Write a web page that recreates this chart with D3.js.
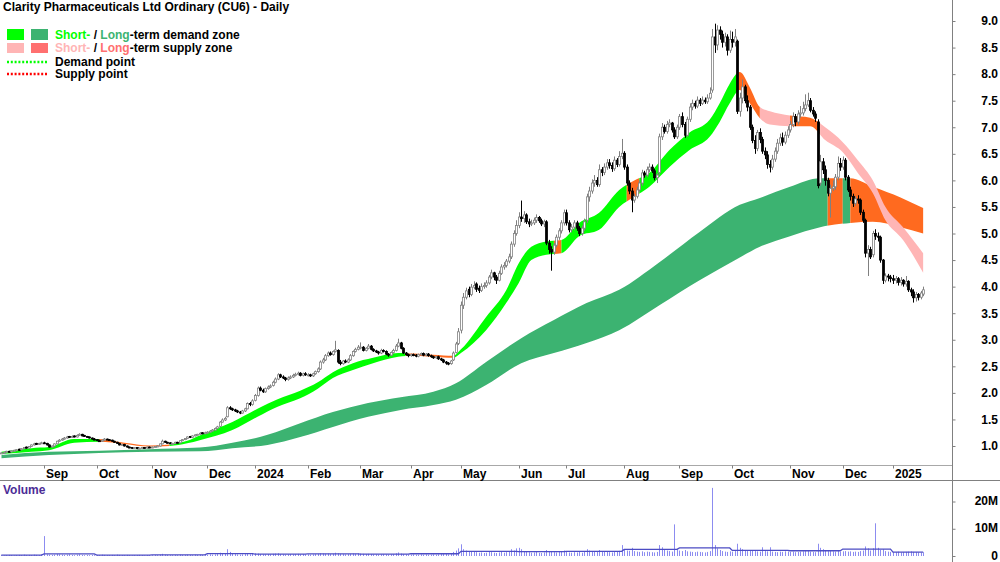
<!DOCTYPE html>
<html>
<head>
<meta charset="utf-8">
<script src="https://cdn.jsdelivr.net/npm/d3@7"></script>
<style>
  body { margin: 0; background: #fff; }
  svg { display: block; font-family: "Liberation Sans Narrow", "Arial Narrow", "Liberation Sans", Arial, sans-serif; }
</style>
</head>
<body>
<div id="chart"></div>
<script>
// ---- daily prices, one entry per trading day (Aug 2023 .. Jan 2025) ----
var opens = [
  0.86,0.87,0.88,0.90,0.89,0.91,0.92,0.94,0.93,0.95,0.98,0.96,0.99,1.02,1.05,1.03,1.05,
  1.06,1.05,1.02,0.98,1.00,1.04,1.09,1.11,1.13,1.15,1.18,1.16,1.19,1.17,1.20,1.22,1.20,1.18,1.17,1.15,1.13,
  1.12,1.10,1.09,1.11,1.13,1.12,1.11,1.09,1.07,1.05,1.02,1.03,1.00,0.98,0.97,0.96,0.97,0.95,0.96,0.97,0.96,0.98,
  0.97,0.98,0.99,1.00,1.04,1.09,1.07,1.06,1.04,1.05,1.07,1.06,1.10,1.12,1.14,1.18,1.16,1.19,1.21,1.22,1.25,1.23,
  1.25,1.26,1.28,1.30,1.33,1.37,1.45,1.49,1.55,1.72,1.70,1.68,1.66,1.64,1.62,1.66,1.70,1.80,1.78,
  1.86,1.95,2.09,2.05,2.02,2.08,2.11,2.14,2.20,2.26,2.34,2.30,2.28,2.25,2.28,2.30,2.33,2.35,2.37,2.33,2.36,
  2.34,2.34,2.32,2.36,2.40,2.45,2.58,2.62,2.70,2.75,2.72,2.78,2.80,2.58,2.55,2.60,2.58,2.62,2.70,2.78,2.82,
  2.86,2.86,2.80,2.84,2.88,2.82,2.79,2.77,2.75,2.80,2.78,2.73,2.71,2.76,2.80,2.88,2.94,2.84,2.75,2.72,
  2.70,2.72,2.71,2.69,2.72,2.74,2.71,2.73,2.70,2.68,2.66,2.68,2.64,2.62,2.58,2.56,2.55,2.62,2.76,2.93,
  3.18,3.65,3.80,3.95,3.85,3.99,4.05,3.97,3.93,4.00,4.02,4.07,4.18,4.26,4.18,4.12,4.25,4.37,4.40,4.48,4.56,4.80,5.00,
  5.15,5.31,5.28,5.35,5.22,5.18,5.20,5.25,5.30,5.24,5.18,5.22,4.82,4.70,4.65,4.78,4.93,5.05,5.20,
  5.39,5.20,5.07,5.12,5.20,5.10,5.00,5.10,5.25,5.69,5.80,5.95,6.00,5.92,6.20,6.15,6.25,6.33,6.28,6.22,6.38,6.30,6.45,
  6.51,6.25,5.95,5.80,5.63,5.70,5.82,5.95,6.14,6.10,6.20,6.25,6.18,6.05,6.15,6.82,7.00,6.92,7.05,7.08,6.95,6.82,
  7.00,7.20,7.05,6.85,7.15,7.38,7.45,7.40,7.51,7.45,7.51,7.48,7.55,7.70,8.70,8.55,8.83,8.75,8.60,8.70,8.45,
  8.65,8.60,8.62,7.30,7.55,7.76,7.50,7.38,7.00,6.75,6.60,6.90,6.77,6.55,6.48,6.30,6.25,6.40,6.55,6.70,6.80,6.72,6.85,
  6.95,7.05,7.20,7.10,7.25,7.27,7.35,7.42,7.50,7.32,7.25,7.10,5.95,6.35,6.20,6.00,5.76,5.85,5.88,6.06,6.32,
  6.25,6.38,6.06,5.82,5.70,5.57,5.65,5.63,5.40,5.25,4.63,4.70,4.60,5.00,4.95,4.93,4.50,4.12,4.20,4.18,
  4.15,4.12,4.15,4.08,4.12,4.05,4.10,3.94,3.90,3.79,3.85,3.80,3.86
];
var highs = [
  0.88,0.89,0.91,0.91,0.92,0.93,0.94,0.95,0.96,0.98,0.99,1.00,1.03,1.06,1.06,1.06,1.08,
  1.08,1.06,1.03,1.01,1.05,1.10,1.13,1.15,1.17,1.19,1.19,1.20,1.20,1.22,1.24,1.23,1.21,1.19,1.18,1.16,1.15,
  1.13,1.12,1.12,1.15,1.14,1.13,1.12,1.10,1.08,1.06,1.04,1.04,1.01,0.99,0.98,0.98,0.98,0.97,0.98,0.98,0.99,0.99,
  0.99,1.00,1.01,1.05,1.12,1.10,1.08,1.07,1.06,1.08,1.08,1.11,1.13,1.15,1.18,1.19,1.20,1.22,1.23,1.26,1.26,1.27,
  1.28,1.30,1.32,1.35,1.38,1.47,1.52,1.55,1.75,1.75,1.72,1.70,1.68,1.66,1.68,1.72,1.82,1.83,1.88,
  1.98,2.12,2.12,2.08,2.10,2.14,2.16,2.23,2.29,2.37,2.36,2.33,2.30,2.31,2.33,2.36,2.38,2.40,2.39,2.38,2.39,
  2.37,2.36,2.38,2.42,2.48,2.61,2.66,2.73,2.78,2.78,2.80,2.98,2.82,2.62,2.62,2.63,2.65,2.73,2.80,2.85,2.90,
  2.95,2.88,2.86,2.92,2.90,2.84,2.81,2.79,2.83,2.82,2.80,2.75,2.78,2.83,2.92,3.02,2.96,2.86,2.77,2.74,
  2.74,2.74,2.73,2.74,2.76,2.76,2.75,2.75,2.72,2.70,2.70,2.70,2.66,2.64,2.60,2.58,2.62,2.78,2.96,3.22,
  3.72,3.88,3.98,4.00,4.05,4.10,4.08,4.02,4.06,4.08,4.12,4.22,4.32,4.28,4.22,4.30,4.42,4.46,4.52,4.62,4.85,5.06,5.25,
  5.40,5.62,5.42,5.38,5.28,5.26,5.30,5.36,5.33,5.28,5.26,5.25,4.88,4.76,4.82,4.98,5.10,5.25,5.45,
  5.45,5.25,5.18,5.25,5.24,5.14,5.15,5.28,5.75,5.88,6.02,6.10,6.06,6.30,6.25,6.32,6.40,6.40,6.34,6.45,6.42,6.55,6.78,
  6.55,6.30,6.00,5.86,5.75,5.88,6.00,6.20,6.18,6.26,6.32,6.30,6.22,6.14,6.88,7.08,7.05,7.12,7.15,7.10,7.00,7.05,
  7.25,7.28,7.10,7.20,7.45,7.52,7.50,7.58,7.55,7.58,7.56,7.62,7.75,8.85,8.95,8.92,8.90,8.82,8.78,8.75,8.82,
  8.80,8.85,8.65,7.65,7.90,7.80,7.60,7.42,7.05,6.85,6.95,6.98,6.82,6.62,6.55,6.38,6.48,6.62,6.78,6.88,6.90,6.92,7.02,
  7.12,7.28,7.25,7.32,7.40,7.48,7.62,7.65,7.55,7.38,7.30,7.15,6.48,6.42,6.28,6.05,5.92,6.00,6.12,6.45,6.42,
  6.45,6.42,6.10,5.88,5.75,5.70,5.72,5.66,5.45,5.28,4.78,4.75,5.05,5.08,5.02,4.96,4.52,4.25,4.24,4.22,
  4.22,4.20,4.18,4.18,4.14,4.20,4.12,3.98,3.95,3.90,3.88,3.92,4.00
];
var lows = [
  0.85,0.86,0.87,0.88,0.88,0.90,0.91,0.91,0.92,0.94,0.95,0.95,0.98,1.01,1.02,1.02,1.04,
  1.04,1.01,0.97,0.97,0.99,1.03,1.08,1.10,1.12,1.14,1.15,1.15,1.16,1.16,1.19,1.18,1.17,1.16,1.14,1.12,1.11,
  1.09,1.08,1.08,1.10,1.11,1.10,1.08,1.06,1.04,1.01,1.01,0.99,0.97,0.96,0.95,0.95,0.94,0.94,0.95,0.95,0.95,0.96,
  0.96,0.97,0.98,0.99,1.03,1.06,1.05,1.04,1.03,1.04,1.05,1.05,1.09,1.11,1.13,1.15,1.15,1.18,1.20,1.21,1.22,1.22,
  1.24,1.25,1.27,1.29,1.32,1.36,1.44,1.47,1.54,1.68,1.66,1.64,1.62,1.60,1.61,1.64,1.69,1.75,1.76,
  1.84,1.93,2.03,2.00,2.00,2.06,2.09,2.12,2.18,2.24,2.28,2.26,2.22,2.23,2.26,2.28,2.31,2.33,2.31,2.31,2.32,
  2.31,2.30,2.30,2.34,2.38,2.43,2.55,2.60,2.68,2.70,2.70,2.76,2.55,2.52,2.53,2.56,2.56,2.60,2.68,2.76,2.80,
  2.82,2.78,2.78,2.82,2.80,2.77,2.75,2.72,2.73,2.76,2.71,2.68,2.69,2.74,2.78,2.86,2.82,2.73,2.70,2.67,
  2.68,2.69,2.67,2.67,2.70,2.69,2.69,2.68,2.66,2.64,2.64,2.62,2.60,2.56,2.53,2.52,2.53,2.60,2.74,2.90,
  3.12,3.58,3.76,3.80,3.82,3.95,3.90,3.88,3.90,3.96,3.98,4.04,4.14,4.12,4.05,4.10,4.22,4.32,4.36,4.44,4.52,4.75,4.96,
  5.10,5.22,5.20,5.18,5.12,5.14,5.16,5.20,5.20,5.14,5.12,4.78,4.62,4.30,4.60,4.74,4.88,5.00,5.15,
  5.15,5.02,5.02,5.06,5.05,4.95,4.96,5.05,5.20,5.60,5.75,5.88,5.88,5.88,6.08,6.10,6.20,6.22,6.16,6.18,6.25,6.26,6.40,
  6.20,5.90,5.74,5.40,5.58,5.66,5.78,5.90,6.05,6.06,6.15,6.14,6.00,5.95,6.10,6.76,6.88,6.88,7.00,6.90,6.78,6.78,
  6.95,7.00,6.80,6.82,7.10,7.32,7.35,7.36,7.40,7.42,7.44,7.44,7.52,7.65,8.40,8.45,8.65,8.50,8.52,8.35,8.40,
  8.50,8.52,7.25,7.20,7.45,7.45,7.30,6.95,6.70,6.50,6.55,6.70,6.50,6.40,6.22,6.15,6.20,6.35,6.50,6.65,6.65,6.68,6.80,
  6.90,7.00,7.02,7.05,7.18,7.22,7.30,7.38,7.28,7.20,7.10,5.85,5.90,6.12,5.90,5.70,5.30,5.80,5.82,6.00,6.18,
  6.20,6.00,5.78,5.62,5.50,5.52,5.56,5.35,5.20,4.55,4.20,4.52,4.55,4.88,4.85,4.45,4.05,4.08,4.10,4.08,
  4.05,4.06,4.02,4.02,4.00,4.00,3.90,3.82,3.70,3.72,3.74,3.76,3.82
];
var closes = [
  0.87,0.88,0.90,0.89,0.91,0.92,0.93,0.92,0.95,0.97,0.96,0.99,1.02,1.04,1.03,1.05,1.06,
  1.05,1.02,0.98,1.00,1.04,1.09,1.11,1.13,1.15,1.17,1.16,1.18,1.17,1.20,1.22,1.19,1.18,1.17,1.15,1.13,1.12,
  1.10,1.09,1.11,1.13,1.12,1.11,1.09,1.07,1.05,1.02,1.03,1.00,0.98,0.97,0.96,0.97,0.95,0.96,0.97,0.96,0.98,0.97,
  0.98,0.99,1.00,1.04,1.09,1.07,1.06,1.05,1.05,1.07,1.06,1.10,1.12,1.14,1.17,1.16,1.19,1.21,1.22,1.24,1.23,1.25,
  1.26,1.28,1.30,1.33,1.36,1.45,1.49,1.52,1.72,1.70,1.68,1.66,1.64,1.62,1.66,1.70,1.80,1.78,1.85,
  1.95,2.09,2.05,2.02,2.08,2.11,2.13,2.20,2.26,2.34,2.30,2.28,2.25,2.28,2.30,2.33,2.35,2.37,2.33,2.36,2.34,
  2.34,2.32,2.36,2.40,2.45,2.58,2.62,2.70,2.75,2.72,2.78,2.81,2.58,2.55,2.60,2.58,2.62,2.70,2.78,2.82,2.86,
  2.86,2.80,2.84,2.88,2.82,2.79,2.77,2.75,2.80,2.78,2.73,2.71,2.76,2.80,2.88,2.94,2.84,2.75,2.72,2.70,
  2.72,2.71,2.69,2.72,2.74,2.71,2.73,2.70,2.68,2.66,2.68,2.64,2.62,2.58,2.56,2.55,2.60,2.75,2.92,3.15,
  3.65,3.80,3.92,3.85,3.99,4.02,3.95,3.93,4.00,4.02,4.07,4.18,4.26,4.18,4.12,4.25,4.37,4.40,4.48,4.56,4.80,5.00,5.15,
  5.31,5.28,5.35,5.22,5.18,5.20,5.25,5.30,5.24,5.18,5.22,4.82,4.70,4.65,4.78,4.93,5.05,5.20,5.39,
  5.20,5.07,5.12,5.20,5.10,5.00,5.10,5.22,5.69,5.80,5.95,6.00,5.92,6.20,6.15,6.25,6.33,6.28,6.22,6.38,6.30,6.45,6.51,
  6.25,5.95,5.80,5.63,5.70,5.82,5.95,6.14,6.10,6.20,6.25,6.18,6.05,6.10,6.82,7.00,6.92,7.05,7.08,6.95,6.82,7.00,
  7.20,7.05,6.85,7.15,7.38,7.45,7.40,7.51,7.45,7.51,7.48,7.55,7.64,8.70,8.55,8.83,8.75,8.60,8.70,8.45,8.65,
  8.60,8.70,7.30,7.55,7.76,7.50,7.38,7.00,6.75,6.60,6.90,6.77,6.55,6.48,6.30,6.25,6.40,6.55,6.70,6.80,6.72,6.85,6.95,
  7.05,7.20,7.10,7.25,7.27,7.35,7.42,7.50,7.32,7.25,7.17,5.90,6.35,6.20,6.00,5.76,5.85,5.88,6.06,6.32,6.25,
  6.38,6.06,5.82,5.70,5.57,5.65,5.63,5.40,5.25,4.63,4.70,4.56,5.00,4.95,4.93,4.50,4.12,4.20,4.18,4.15,
  4.12,4.15,4.08,4.12,4.05,4.10,3.94,3.90,3.79,3.85,3.80,3.88,3.94
];
// volume in millions of shares
var volumes = [
  0.3,0.2,0.3,0.4,0.3,0.2,0.3,0.4,0.3,0.5,0.3,0.4,0.3,0.5,0.4,0.3,0.6,
  7.3,0.6,0.5,0.4,0.5,0.7,0.6,0.5,0.4,0.5,0.6,0.4,0.3,0.5,0.6,0.4,0.3,0.4,0.3,0.4,0.3,
  0.4,0.3,0.5,0.4,0.3,0.3,0.4,0.3,0.5,0.4,0.3,0.3,0.4,0.3,0.2,0.3,0.3,0.4,0.3,0.2,0.3,0.3,
  0.3,0.4,0.3,0.5,0.8,0.5,0.4,0.3,0.3,0.4,0.3,0.5,0.4,0.4,0.5,0.4,0.3,0.5,0.4,0.5,0.4,0.5,
  0.5,0.6,0.5,0.6,0.7,1.2,0.9,0.8,2.5,1.5,0.8,0.7,0.6,0.5,0.6,0.7,1.0,0.6,0.8,
  1.0,0.9,0.7,0.6,0.6,0.7,0.6,0.8,0.9,1.0,0.7,0.6,0.5,0.6,0.7,0.6,0.7,0.8,0.6,0.7,0.6,
  0.6,0.5,0.6,0.7,0.8,1.0,0.9,0.8,0.9,0.7,0.8,1.2,1.0,0.8,0.7,0.6,0.7,0.8,0.9,0.8,1.0,
  0.9,0.8,0.7,0.8,0.7,0.6,0.6,0.5,0.6,0.7,0.6,0.5,0.6,0.7,1.0,1.3,0.9,0.7,0.6,0.5,
  0.5,0.6,0.5,0.5,0.6,0.5,0.6,0.5,0.5,0.6,0.5,0.6,0.7,1.0,0.8,0.6,0.7,1.5,2.0,2.8,
  4.3,2.5,2.0,1.8,1.5,1.6,1.4,1.2,1.3,1.1,1.2,1.5,1.4,1.2,1.1,1.3,1.5,1.2,1.4,1.6,2.5,2.0,2.8,
  3.0,2.5,1.8,1.5,1.4,1.2,1.3,1.5,1.2,1.1,1.3,2.2,1.6,1.5,1.4,1.3,1.5,1.7,2.0,
  1.5,1.3,1.2,1.4,1.3,1.5,1.2,1.6,2.5,2.0,1.8,1.6,1.5,2.2,1.7,1.5,1.6,1.4,1.3,1.8,1.5,1.9,4.0,
  2.2,2.0,1.9,3.0,1.8,1.6,1.5,1.7,1.4,1.6,1.5,1.4,1.3,1.5,4.0,3.2,2.2,2.0,1.8,1.6,11.6,2.5,
  2.0,1.8,2.2,1.7,1.6,1.5,1.4,1.6,1.5,1.4,1.3,1.5,1.8,25.0,4.0,2.8,2.2,1.8,1.6,1.5,1.7,
  1.6,1.8,4.5,3.0,2.5,2.0,1.8,2.2,2.0,1.8,1.7,1.6,3.2,1.8,1.7,3.2,1.6,1.5,1.4,1.6,1.5,1.7,1.6,
  1.5,1.6,1.4,1.5,1.6,1.7,1.8,2.0,1.6,1.5,1.4,4.5,3.0,2.5,2.0,1.8,2.2,1.7,1.6,1.9,1.6,
  1.7,1.8,1.6,1.7,1.5,1.6,1.5,1.8,2.0,3.5,2.8,2.0,2.8,12.0,3.0,2.2,2.5,1.8,1.6,1.5,
  1.5,1.4,1.6,1.3,1.4,1.5,1.6,1.7,1.5,1.4,1.3,1.2,1.4
];

// month axis: label and trading-day index of the first session of the month
var monthLabels = ["Sep","Oct","Nov","Dec","2024","Feb","Mar","Apr","May","Jun","Jul","Aug","Sep","Oct","Nov","Dec","2025"];
var monthStarts = [17,38,60,82,101,122,143,163,183,206,225,248,270,291,314,335,355];
var priceTicks = [1.0,1.5,2.0,2.5,3.0,3.5,4.0,4.5,5.0,5.5,6.0,6.5,7.0,7.5,8.0,8.5,9.0];
var volumeTicks = [0, 10, 20];

// long-term zone (sampled on trading-day index)
var longIdx = [0,19,39,59,79,92,106,119,132,146,159,172,181,193,207,220,233,246,262,278,294,302,314,326,338,347,358,367];
var longTop = [0.83,0.89,0.91,0.94,0.97,1.06,1.21,1.43,1.64,1.81,1.92,2.02,2.18,2.58,3.03,3.37,3.69,3.94,4.46,5.03,5.54,5.67,5.88,6.04,6.04,5.88,5.68,5.48];
var longBot = [0.77,0.83,0.87,0.89,0.90,0.96,1.02,1.17,1.36,1.55,1.68,1.77,1.87,2.15,2.56,2.75,2.94,3.18,3.65,4.12,4.55,4.75,4.95,5.12,5.20,5.22,5.12,5.00];
var longSegs = [[0,329,"demand"],[329,335,"supply"],[335,338,"demand"],[338,368,"supply"]];

// short-term zone
var shortIdx = [0,12,19,29,39,49,59,67,74,79,92,102,110,119,126,132,140,148,158,164,172,180,183,193,201,206,211,217,223,230,238,246,252,258,266,274,282,286,290,294,298,302,306,314,322,328,335,341,347,352,359,367];
var shortTop = [0.89,0.96,0.98,1.13,1.13,1.06,1.01,1.03,1.10,1.20,1.45,1.70,1.88,2.04,2.20,2.39,2.56,2.66,2.75,2.74,2.72,2.70,2.82,3.43,3.93,4.44,4.75,4.85,4.88,5.20,5.39,5.82,6.00,6.14,6.57,6.90,7.14,7.45,7.82,8.04,7.75,7.38,7.30,7.22,7.18,7.00,6.72,6.38,6.00,5.50,5.12,4.63];
var shortBot = [0.85,0.89,0.92,1.06,1.08,1.04,0.99,1.00,1.05,1.11,1.30,1.55,1.74,1.90,2.08,2.28,2.43,2.56,2.68,2.70,2.68,2.66,2.75,3.18,3.69,4.07,4.50,4.60,4.63,4.95,5.07,5.50,5.69,5.88,6.25,6.57,6.82,7.10,7.45,7.70,7.45,7.17,7.05,7.02,7.02,6.76,6.53,6.14,5.76,5.25,4.88,4.26];
var shortSegs = [[0,39,"demand"],[39,67,"supply"],[67,161,"demand"],[161,180,"supply"],[180,220,"demand"],[220,223,"supply"],
                 [223,249,"demand"],[249,254,"supply"],[254,293,"demand"],[293,302,"supply"],[302,314,"weak"],[314,326,"supply"],[326,368,"weak"]];

var W = 1000, H = 562, axisX = 952, priceBottom = 465.5;

var svg = d3.select("#chart").append("svg").attr("width", W).attr("height", H);
var defs = svg.append("defs");

var x = d3.scaleLinear().domain([17, 355]).range([44, 893]);
var y = d3.scaleLinear().domain([1, 9]).range([446, 21]);
var yv = d3.scaleLinear().domain([0, 20]).range([556, 501.5]);

defs.append("clipPath").attr("id", "priceClip")
  .append("rect").attr("x", 0).attr("y", 0).attr("width", axisX).attr("height", priceBottom);

var plot = svg.append("g").attr("clip-path", "url(#priceClip)");

// zones
var zoneColor = {
  longdemand: "#3cb371", longsupply: "#ff6a1f",
  shortdemand: "#00ff00", shortsupply: "#ff6a1f", shortweak: "#ffb5b5"
};
var clipId = 0;
function drawZone(name, idx, top, bot, segs) {
  var pts = idx.map(function(k, i) { return {k: k, t: top[i], b: bot[i]}; });
  var area = d3.area().curve(d3.curveMonotoneX)
    .x(function(d) { return x(d.k); })
    .y0(function(d) { return y(d.b); })
    .y1(function(d) { return y(d.t); });
  var g = plot.append("g").attr("class", name);
  segs.forEach(function(s) {
    var id = "zc" + (clipId++);
    defs.append("clipPath").attr("id", id).append("rect")
      .attr("x", x(s[0])).attr("width", x(s[1]) - x(s[0]))
      .attr("y", 0).attr("height", priceBottom);
    g.append("path").attr("d", area(pts))
      .attr("fill", zoneColor[name + s[2]])
      .attr("clip-path", "url(#" + id + ")");
  });
}
drawZone("long", longIdx, longTop, longBot, longSegs);
drawZone("short", shortIdx, shortTop, shortBot, shortSegs);

// candles
var days = closes.map(function(c, k) {
  return {k: k, o: opens[k], h: highs[k], l: lows[k], c: c, v: volumes[k]};
});
function px(k) { return Math.round(x(k)) + 0.5; }

plot.selectAll("line.wick").data(days).join("line")
  .attr("class", "wick")
  .attr("x1", function(d) { return px(d.k); })
  .attr("x2", function(d) { return px(d.k); })
  .attr("y1", function(d) { return y(d.h); })
  .attr("y2", function(d) { return y(d.l); })
  .attr("stroke", function(d) { return d.c >= d.o ? "#808080" : "#000"; })
  .attr("stroke-width", 1);

plot.selectAll("rect.body").data(days).join("rect")
  .attr("class", "body")
  .attr("x", function(d) { return px(d.k) - 1; })
  .attr("width", 2)
  .attr("y", function(d) { return y(Math.max(d.o, d.c)); })
  .attr("height", function(d) { return Math.max(1, Math.abs(y(d.o) - y(d.c))); })
  .attr("fill", function(d) { return d.c >= d.o ? "#fff" : "#000"; })
  .attr("stroke", function(d) { return d.c >= d.o ? "#808080" : "#000"; })
  .attr("stroke-width", 0.8);

// frame lines
svg.append("line").attr("x1", 0).attr("x2", axisX).attr("y1", priceBottom).attr("y2", priceBottom)
  .attr("stroke", "#a8a8a8");
svg.append("line").attr("x1", 0).attr("x2", W).attr("y1", 480.5).attr("y2", 480.5)
  .attr("stroke", "#808080");
svg.append("line").attr("x1", axisX + 0.5).attr("x2", axisX + 0.5).attr("y1", 0).attr("y2", H)
  .attr("stroke", "#808080");

// price axis
var yAxis = svg.append("g").attr("transform", "translate(" + (axisX + 0.5) + ",0)")
  .call(d3.axisRight(y).tickValues(priceTicks).tickSize(3).tickFormat(d3.format(".1f")));
yAxis.select(".domain").remove();
yAxis.selectAll(".tick line").attr("stroke", "#808080");
yAxis.selectAll(".tick text").attr("x", 45.5).attr("text-anchor", "end")
  .attr("font-size", 12).attr("font-weight", "bold").attr("font-family", null).attr("fill", "#000");

// month axis
var mx = svg.append("g");
mx.selectAll("line").data(monthStarts).join("line")
  .attr("x1", function(d) { return px(d); }).attr("x2", function(d) { return px(d); })
  .attr("y1", priceBottom).attr("y2", priceBottom + 3)
  .attr("stroke", "#808080");
mx.selectAll("text").data(monthLabels).join("text")
  .attr("x", function(d, i) { return px(monthStarts[i]) + 1.5; })
  .attr("y", 477.5)
  .attr("font-size", 12).attr("font-weight", "bold")
  .text(function(d) { return d; });

// volume panel
var vol = svg.append("g");
vol.selectAll("line").data(days).join("line")
  .attr("x1", function(d) { return px(d.k); }).attr("x2", function(d) { return px(d.k); })
  .attr("y1", yv(0)).attr("y2", function(d) { return yv(d.v); })
  .attr("stroke", "#8c8cf0").attr("stroke-width", 1);

// monthly average volume line
var bounds = [0].concat(monthStarts).concat([closes.length]);
var avgPts = [];
for (var m = 0; m < bounds.length - 1; m++) {
  var mean = d3.mean(volumes.slice(bounds[m], bounds[m + 1]));
  avgPts.push([x(bounds[m]), yv(mean)]);
  avgPts.push([x(bounds[m + 1] - 1), yv(mean)]);
}
vol.append("path").attr("d", d3.line()(avgPts))
  .attr("fill", "none").attr("stroke", "#4c4cc4").attr("stroke-width", 1.3);

var vAxis = svg.append("g").attr("transform", "translate(" + (axisX + 0.5) + ",0)")
  .call(d3.axisRight(yv).tickValues(volumeTicks).tickSize(3)
    .tickFormat(function(d) { return d === 0 ? "0" : d + "M"; }));
vAxis.select(".domain").remove();
vAxis.selectAll(".tick line").attr("stroke", "#808080");
vAxis.selectAll(".tick text").attr("x", 45.5).attr("text-anchor", "end").attr("dy", "0.25em")
  .attr("font-size", 12).attr("font-weight", "bold").attr("font-family", null).attr("fill", "#000");

svg.append("text").attr("x", 3).attr("y", 494)
  .attr("font-size", 12).attr("font-weight", "bold").attr("fill", "#4b2c96")
  .text("Volume");

// title
svg.append("text").attr("x", 3).attr("y", 11)
  .attr("font-size", 12).attr("font-weight", "bold")
  .text("Clarity Pharmaceuticals Ltd Ordinary (CU6) - Daily");

// legend
var lg = svg.append("g").attr("font-size", 12).attr("font-weight", "bold");
lg.append("rect").attr("x", 7).attr("y", 29).attr("width", 17).attr("height", 11).attr("fill", "#00ff00");
lg.append("rect").attr("x", 31).attr("y", 29).attr("width", 17).attr("height", 11).attr("fill", "#3cb371");
lg.append("rect").attr("x", 7).attr("y", 43).attr("width", 17).attr("height", 10).attr("fill", "#ffb5b5");
lg.append("rect").attr("x", 31).attr("y", 43).attr("width", 17).attr("height", 10).attr("fill", "#ff7070");
lg.append("line").attr("x1", 7).attr("x2", 48).attr("y1", 62).attr("y2", 62)
  .attr("stroke", "#00ff00").attr("stroke-width", 2.5).attr("stroke-dasharray", "2,1.8");
lg.append("line").attr("x1", 7).attr("x2", 48).attr("y1", 74).attr("y2", 74)
  .attr("stroke", "#ff0000").attr("stroke-width", 2.5).attr("stroke-dasharray", "2,1.8");

var t1 = lg.append("text").attr("x", 55).attr("y", 39);
t1.append("tspan").attr("fill", "#00ff00").text("Short-");
t1.append("tspan").attr("fill", "#000").text(" / ");
t1.append("tspan").attr("fill", "#3cb371").text("Long");
t1.append("tspan").attr("fill", "#000").text("-term demand zone");
var t2 = lg.append("text").attr("x", 55).attr("y", 52);
t2.append("tspan").attr("fill", "#ffb5b5").text("Short-");
t2.append("tspan").attr("fill", "#000").text(" / ");
t2.append("tspan").attr("fill", "#ff7070").text("Long");
t2.append("tspan").attr("fill", "#000").text("-term supply zone");
lg.append("text").attr("x", 55).attr("y", 66).text("Demand point");
lg.append("text").attr("x", 55).attr("y", 78).text("Supply point");
</script>
</body>
</html>
